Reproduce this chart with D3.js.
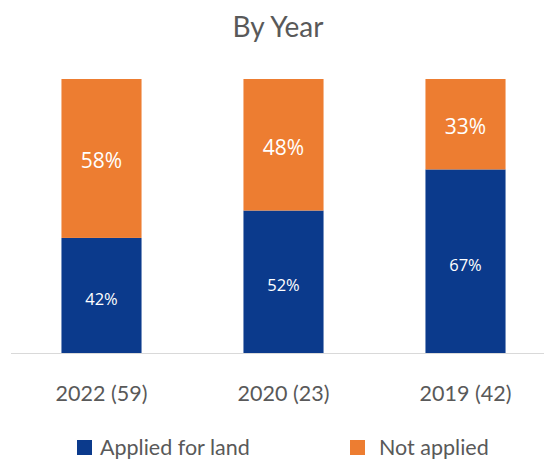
<!DOCTYPE html>
<html>
<head>
  <script src="https://d3js.org/d3.v7.min.js"></script>
  <style>
  body { margin: 0; background: white; }
  svg { display: block; font-family: "Gill Sans", "Lato", sans-serif; }
  </style>
</head>
<body>
<svg id="chart" width="544" height="459"></svg>
<script>
// chart data
var years = ["2022 (59)", "2020 (23)", "2019 (42)"];
var applied = [42, 52, 67];
var notApplied = [58, 48, 33];
var seriesNames = ["Applied for land", "Not applied"];
var seriesColors = ["#0B3A8C", "#ED7D31"];

var svg = d3.select("#chart");

var xs = d3.scaleBand().domain(years).range([10.5, 556.5])
  .paddingInner(0.56).paddingOuter(0.28);
var ys = d3.scaleLinear().domain([0, 100]).range([353, 79]);

var rows = years.map(function(y, i) {
  return { year: y, applied: applied[i], notApplied: notApplied[i] };
});
var stack = d3.stack().keys(["applied", "notApplied"])(rows);

// title
svg.append("text")
  .attr("x", 278).attr("y", 37)
  .attr("text-anchor", "middle")
  .style("font-size", "28px")
  .style("fill", "#595959")
  .text("By Year");

// bars
var groups = svg.selectAll("g.series").data(stack).enter().append("g")
  .attr("class", "series")
  .attr("fill", function(d, i) { return seriesColors[i]; });

groups.selectAll("rect").data(function(d) { return d; }).enter().append("rect")
  .attr("x", function(d) { return xs(d.data.year); })
  .attr("width", xs.bandwidth())
  .attr("y", function(d) { return ys(d[1]); })
  .attr("height", function(d) { return ys(d[0]) - ys(d[1]); });

// value labels
groups.each(function(s, si) {
  d3.select(this).selectAll("text").data(s).enter().append("text")
    .attr("x", function(d) { return xs(d.data.year) + xs.bandwidth() / 2; })
    .attr("y", function(d) { return (ys(d[0]) + ys(d[1])) / 2 + (si == 0 ? 3 : 2); })
    .attr("text-anchor", "middle")
    .attr("dominant-baseline", "central")
    .style("fill", "white")
    .style("font-family", "'Open Sans', sans-serif")
    .style("font-weight", si == 0 ? "500" : "400")
    .style("font-size", si == 0 ? "16.5px" : "21px")
    .text(function(d) { return (d[1] - d[0]) + "%"; });
});

// baseline
svg.append("line")
  .attr("x1", 11).attr("x2", 544)
  .attr("y1", ys(0) + 0.5).attr("y2", ys(0) + 0.5)
  .style("stroke", "#d9d9d9").style("stroke-width", 1);

// category labels
var xAxis = svg.append("g")
  .attr("transform", "translate(0," + ys(0) + ")")
  .call(d3.axisBottom(xs).tickSize(0).tickPadding(33));
xAxis.select(".domain").remove();
xAxis.selectAll("text")
  .style("font-family", "'Gill Sans', 'Lato', sans-serif")
  .style("font-size", "21.5px")
  .style("fill", "#595959");

// legend
var legendX = [77, 350];
var legend = svg.selectAll("g.legend").data(seriesNames).enter().append("g")
  .attr("class", "legend")
  .attr("transform", function(d, i) { return "translate(" + legendX[i] + ",440)"; });
legend.append("rect")
  .attr("width", 15).attr("height", 15)
  .attr("fill", function(d, i) { return seriesColors[i]; });
legend.append("text")
  .attr("x", function(d, i) { return i == 0 ? 23 : 29; })
  .attr("y", 15)
  .style("font-size", "21.5px")
  .style("fill", "#595959")
  .text(function(d) { return d; });
</script>
</body>
</html>
